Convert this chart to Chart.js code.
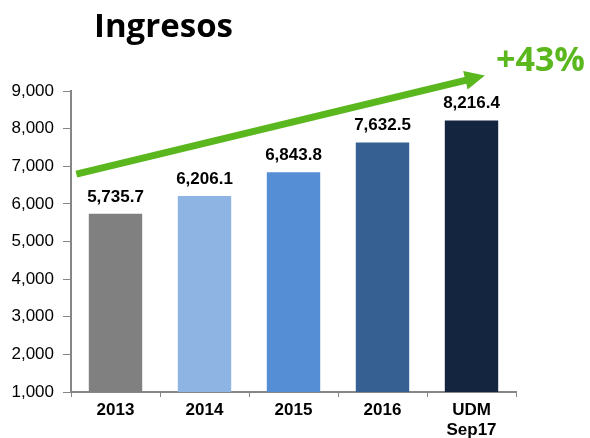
<!DOCTYPE html>
<html><head><meta charset="utf-8">
<script src="https://cdn.jsdelivr.net/npm/chart.js@4/dist/chart.umd.min.js"></script>
<style>html,body{margin:0;padding:0;background:#fff}#wrap{width:590px;height:438px;position:relative}</style>
</head><body><div id="wrap"><canvas id="c"></canvas></div>
<script>
const categories = [["2013"], ["2014"], ["2015"], ["2016"], ["UDM", "Sep17"]];
const values = [5735.7, 6206.1, 6843.8, 7632.5, 8216.4];
const valueLabels = ["5,735.7", "6,206.1", "6,843.8", "7,632.5", "8,216.4"];
const barColors = ["#808080", "#8EB4E3", "#558ED5", "#376092", "#14263F"];
const yTicks = [1000, 2000, 3000, 4000, 5000, 6000, 7000, 8000, 9000];
const titleText = "Ingresos";
const growthText = "+43%";
// arrow endpoints in data space: [category index, value]
const arrowStart = [-0.44, 6790];
const arrowEnd = [4.15, 9410];

const GREEN = "#5BB71E";

const overlay = {
  id: 'overlay',
  afterDatasetsDraw(chart) {
    const ctx = chart.ctx;
    const meta = chart.getDatasetMeta(0);
    ctx.save();
    ctx.fillStyle = '#000';
    ctx.font = 'bold 17px "Liberation Sans", Arial, sans-serif';
    ctx.textAlign = 'center';
    ctx.textBaseline = 'alphabetic';
    meta.data.forEach((bar, i) => {
      ctx.fillText(valueLabels[i], bar.x, bar.y - 12);
    });
    // arrow
    const xs = chart.scales.x, ys = chart.scales.y;
    const px = v => xs.getPixelForValue(0) + v * (xs.getPixelForValue(1) - xs.getPixelForValue(0));
    const x0 = px(arrowStart[0]), y0 = ys.getPixelForValue(arrowStart[1]);
    const x1 = px(arrowEnd[0]), y1 = ys.getPixelForValue(arrowEnd[1]);
    const ang = Math.atan2(y1 - y0, x1 - x0);
    const headLen = 20, headW = 9.5;
    const bx = x1 - headLen * Math.cos(ang), by = y1 - headLen * Math.sin(ang);
    ctx.strokeStyle = GREEN; ctx.fillStyle = GREEN;
    ctx.lineWidth = 7; ctx.lineCap = 'butt';
    ctx.beginPath(); ctx.moveTo(x0, y0); ctx.lineTo(bx + 1 * Math.cos(ang), by + 1 * Math.sin(ang)); ctx.stroke();
    ctx.beginPath();
    ctx.moveTo(x1, y1);
    ctx.lineTo(bx + headW * Math.sin(ang), by - headW * Math.cos(ang));
    ctx.lineTo(bx - headW * Math.sin(ang), by + headW * Math.cos(ang));
    ctx.closePath(); ctx.fill();
    // title and growth text
    ctx.textAlign = 'left';
    ctx.fillStyle = '#000';
    ctx.font = 'bold 33px "Open Sans", sans-serif';
    ctx.fillText(titleText, 94, 37);
    ctx.fillStyle = GREEN;
    ctx.font = 'bold 34px "Open Sans", sans-serif';
    ctx.fillText(growthText, 496, 71);
    ctx.restore();
  }
};

new Chart(document.getElementById('c'), {
  type: 'bar',
  data: {
    labels: categories,
    datasets: [{ data: values, backgroundColor: barColors, barPercentage: 0.6, categoryPercentage: 1.0 }]
  },
  options: {
    responsive: true, maintainAspectRatio: false, animation: false,
    layout: { padding: { top: 91, right: 74, left: 0, bottom: 0 } },
    plugins: { legend: { display: false }, tooltip: { enabled: false } },
    scales: {
      x: {
        afterFit(s) { s.height = 46; },
        grid: { display: true, drawOnChartArea: false, drawTicks: true, tickLength: 5, color: '#868686', lineWidth: 1, offset: true },
        border: { display: true, color: '#868686', width: 2 },
        ticks: { color: '#000', font: { family: '"Liberation Sans", Arial, sans-serif', size: 17, weight: 'bold' }, padding: 3, maxRotation: 0, autoSkip: false }
      },
      y: {
        min: yTicks[0], max: yTicks[yTicks.length - 1],
        afterFit(s) { s.width = 71; },
        afterBuildTicks(s) { s.ticks = yTicks.map(v => ({ value: v })); },
        grid: { display: true, drawOnChartArea: false, drawTicks: true, tickLength: 8, color: '#868686', lineWidth: 1 },
        border: { display: true, color: '#868686', width: 2 },
        ticks: { color: '#000', font: { family: '"Liberation Sans", Arial, sans-serif', size: 17 }, padding: 9,
          callback: v => v.toLocaleString('en-US') }
      }
    }
  },
  plugins: [overlay]
});
</script></body></html>
